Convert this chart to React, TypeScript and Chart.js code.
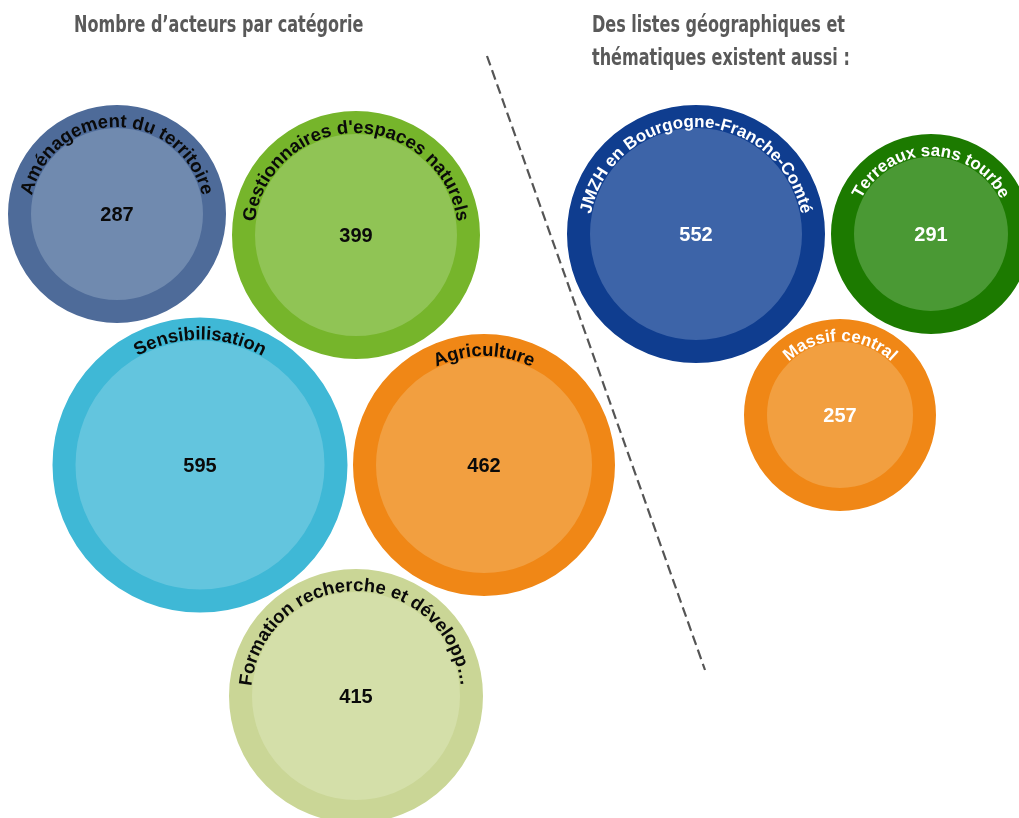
import React, { useEffect, useRef } from "react";
import { Chart, registerables } from "chart.js";

Chart.register(...registerables);

// ---- Data ----
const categories = [
  "Aménagement du territoire",
  "Gestionnaires d'espaces naturels",
  "Sensibilisation",
  "Agriculture",
  "Formation recherche et développement",
];
const categoryCounts = [287, 399, 595, 462, 415];
const categoryX = [117, 356, 200, 484, 356];
const categoryY = [214, 235, 465, 465, 696];
const categoryRadius = [109, 124, 147.5, 131, 127];
const categoryRing = ["#4e6b99", "#76b52b", "#3fb8d6", "#f08716", "#cad696"];
const categoryFill = ["#708aaf", "#90c455", "#63c5de", "#f29f40", "#d4dfa9"];

const lists = ["JMZH en Bourgogne-Franche-Comté", "Terreaux sans tourbe", "Massif central"];
const listCounts = [552, 291, 257];
const listX = [696, 931, 840];
const listY = [234, 234, 415];
const listRadius = [129, 100, 96];
const listRing = ["#0f3d8f", "#1c7a00", "#f08716"];
const listFill = ["#3d64a8", "#4a9934", "#f29f40"];

const dividerX = [487, 705];
const dividerY = [56, 670];

const titleLeft = "Nombre d’acteurs par catégorie";
const titleRightLines = ["Des listes géographiques et", "thématiques existent aussi :"];

const RING = 23;
const FONT_FAMILY = "'Liberation Sans', Arial, sans-serif";
const VALUE_FONT = "bold 20px " + FONT_FAMILY;
const MAX_LABEL_ANGLE = (172 * Math.PI) / 180;

function drawArcText(
  ctx: CanvasRenderingContext2D,
  text: string,
  cx: number,
  cy: number,
  rb: number,
  color: string,
  fontSize: number
) {
  ctx.save();
  ctx.font = "bold " + fontSize + "px " + FONT_FAMILY;
  const widthOf = (s: string) =>
    Array.from(s).reduce((acc, ch) => acc + ctx.measureText(ch).width, 0);
  let t = text;
  if (widthOf(t) / rb > MAX_LABEL_ANGLE) {
    while (t.length > 1 && widthOf(t + "…") / rb > MAX_LABEL_ANGLE) t = t.slice(0, -1);
    t = t.trimEnd() + "…";
  }
  const chars = Array.from(t);
  const total = widthOf(t);
  let a = -Math.PI / 2 - total / rb / 2;
  ctx.fillStyle = color;
  ctx.textAlign = "center";
  ctx.textBaseline = "alphabetic";
  for (const ch of chars) {
    const w = ctx.measureText(ch).width;
    const mid = a + w / 2 / rb;
    ctx.save();
    ctx.translate(cx + rb * Math.cos(mid), cy + rb * Math.sin(mid));
    ctx.rotate(mid + Math.PI / 2);
    ctx.fillText(ch, 0, 0);
    ctx.restore();
    a += w / rb;
  }
  ctx.restore();
}

const bubbleLabelPlugin = {
  id: "bubbleLabels",
  afterDatasetsDraw(chart: any) {
    const ctx = chart.ctx as CanvasRenderingContext2D;
    chart.data.datasets.forEach((ds: any, di: number) => {
      if (ds.type === "line") return;
      const meta = chart.getDatasetMeta(di);
      meta.data.forEach((el: any, i: number) => {
        const raw = ds.data[i];
        const R = el.options.radius + el.options.borderWidth / 2;
        const rb = R - RING + 1;
        drawArcText(ctx, raw.label, el.x, el.y, rb, ds.textColor, ds.labelFontSize);
        ctx.save();
        ctx.font = VALUE_FONT;
        ctx.fillStyle = ds.textColor;
        ctx.textAlign = "center";
        ctx.textBaseline = "middle";
        ctx.fillText(String(raw.v), el.x, el.y + 1);
        ctx.restore();
      });
    });
  },
};

export default function App() {
  const canvasRef = useRef<HTMLCanvasElement | null>(null);

  useEffect(() => {
    if (!canvasRef.current) return;
    const catData = categories.map((c, i) => ({
      x: categoryX[i],
      y: categoryY[i],
      r: categoryRadius[i] - RING / 2,
      v: categoryCounts[i],
      label: c,
    }));
    const listData = lists.map((c, i) => ({
      x: listX[i],
      y: listY[i],
      r: listRadius[i] - RING / 2,
      v: listCounts[i],
      label: c,
    }));
    const chart = new Chart(canvasRef.current, {
      type: "bubble",
      data: {
        datasets: [
          {
            label: titleLeft,
            data: catData,
            backgroundColor: categoryFill,
            borderColor: categoryRing,
            borderWidth: RING,
            hoverBorderWidth: RING,
            textColor: "#0a0a0a",
            labelFontSize: 18.5,
            clip: false,
          } as any,
          {
            label: titleRightLines.join(" "),
            data: listData,
            backgroundColor: listFill,
            borderColor: listRing,
            borderWidth: RING,
            hoverBorderWidth: RING,
            textColor: "#ffffff",
            labelFontSize: 17,
            clip: false,
          } as any,
          {
            type: "line",
            label: "divider",
            data: dividerX.map((x, i) => ({ x, y: dividerY[i] })),
            borderColor: "#555555",
            borderWidth: 2.2,
            borderDash: [10, 5],
            pointRadius: 0,
            fill: false,
            clip: false,
          } as any,
        ],
      },
      options: {
        responsive: false,
        animation: false,
        events: [],
        layout: { padding: 0, autoPadding: false } as any,
        plugins: {
          legend: { display: false },
          tooltip: { enabled: false },
          title: { display: false },
        },
        scales: {
          x: { type: "linear", min: 0, max: 1019, display: false },
          y: { type: "linear", min: 0, max: 818, reverse: true, display: false },
        },
      },
      plugins: [bubbleLabelPlugin],
    });
    return () => chart.destroy();
  }, []);

  const titleStyle: React.CSSProperties = {
    position: "absolute",
    fontFamily: "'DejaVu Sans Condensed', 'DejaVu Sans', sans-serif",
    fontWeight: "bold",
    fontSize: "23px",
    lineHeight: "33px",
    color: "#595959",
    whiteSpace: "nowrap",
    margin: 0,
    transform: "scaleX(0.775)",
    transformOrigin: "0 0",
  };

  return (
    <div style={{ position: "absolute", left: 0, top: 0, width: 1019, height: 818, background: "#ffffff" }}>
      <canvas ref={canvasRef} width={1019} height={818} style={{ position: "absolute", left: 0, top: 0 }} />
      <div style={{ ...titleStyle, left: 74, top: 8 }}>{titleLeft}</div>
      <div style={{ ...titleStyle, left: 592, top: 8 }}>
        {titleRightLines.map((l, i) => (
          <div key={i}>{l}</div>
        ))}
      </div>
    </div>
  );
}
